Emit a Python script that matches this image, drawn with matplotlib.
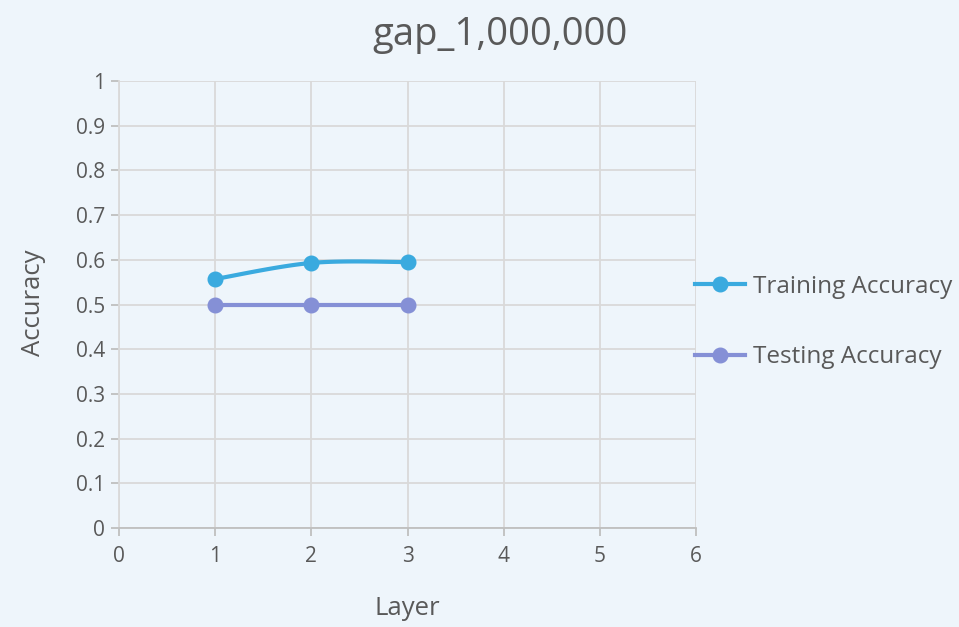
import numpy as np
import matplotlib
matplotlib.use("Agg")
import matplotlib.pyplot as plt

layers = [1, 2, 3]
training_acc = [0.557, 0.593, 0.595]
testing_acc = [0.500, 0.500, 0.500]
x_ticks = [0, 1, 2, 3, 4, 5, 6]
y_ticks = [0, 0.1, 0.2, 0.3, 0.4, 0.5, 0.6, 0.7, 0.8, 0.9, 1]

BG = "#EEF5FB"
TXT = "#595959"
GRID = "#D9D9D9"
C_TRAIN = "#3AAADF"
C_TEST = "#8590D6"

plt.rcParams["font.family"] = ["Open Sans", "DejaVu Sans"]


def smooth(xs, ys, n=40):
    """Cardinal-spline smoothing through the given points."""
    xs = np.asarray(xs, float)
    ys = np.asarray(ys, float)
    px = np.concatenate([[xs[0]], xs, [xs[-1]]])
    py = np.concatenate([[ys[0]], ys, [ys[-1]]])
    t = 1 / 6
    outx, outy = [], []
    for i in range(1, len(px) - 2):
        p0 = np.array([px[i], py[i]])
        p3 = np.array([px[i + 1], py[i + 1]])
        p1 = p0 + t * (np.array([px[i + 1], py[i + 1]]) - np.array([px[i - 1], py[i - 1]]))
        p2 = p3 - t * (np.array([px[i + 2], py[i + 2]]) - np.array([px[i], py[i]]))
        s = np.linspace(0, 1, n)[:, None]
        b = (1 - s) ** 3 * p0 + 3 * (1 - s) ** 2 * s * p1 + 3 * (1 - s) * s ** 2 * p2 + s ** 3 * p3
        outx.extend(b[:, 0])
        outy.extend(b[:, 1])
    return outx, outy


fig = plt.figure(figsize=(9.59, 6.27), dpi=100, facecolor=BG)
ax = fig.add_axes([0.1241, 0.1579, 0.6017, 0.7129], facecolor=BG)

for ys, col, lab in [(training_acc, C_TRAIN, "Training Accuracy"),
                     (testing_acc, C_TEST, "Testing Accuracy")]:
    sx, sy = smooth(layers, ys)
    ax.plot(sx, sy, color=col, lw=3.0, solid_capstyle="round", zorder=3)
    ax.plot(layers, ys, "o", color=col, ms=10.5, zorder=4)
    ax.plot([], [], "-o", color=col, lw=3.0, ms=10.5, label=lab)

ax.set_xlim(0, 6)
ax.set_ylim(0, 1)
ax.set_xticks(x_ticks)
ax.set_xticklabels([str(v) for v in x_ticks])
ax.set_yticks(y_ticks)
ax.set_yticklabels(["0", "0.1", "0.2", "0.3", "0.4", "0.5", "0.6", "0.7", "0.8", "0.9", "1"])
ax.grid(True, color=GRID, lw=1.3)
ax.set_axisbelow(True)
for side in ["top", "right"]:
    ax.spines[side].set_visible(False)
ax.spines["left"].set_color(GRID)
ax.spines["left"].set_linewidth(1.3)
ax.spines["bottom"].set_color("#BFBFBF")
ax.spines["bottom"].set_linewidth(1.3)
ax.tick_params(axis="both", colors="#BFBFBF", labelcolor=TXT, labelsize=15,
               length=6, width=1.3)
ax.tick_params(axis="x", pad=7)
ax.tick_params(axis="y", pad=4)

ax.set_xlabel("Layer", fontsize=18.5, color=TXT, va="center")
ax.xaxis.set_label_coords(0.5, -0.179)
ax.set_ylabel("Accuracy", fontsize=18.5, color=TXT, va="center")
ax.yaxis.set_label_coords(-0.149, 0.503)
fig.text(0.521, 0.944, "gap_1,000,000", fontsize=27.5, color=TXT,
         ha="center", va="center")

leg = fig.legend(loc="center left", bbox_to_anchor=(0.7247, 0.4864), frameon=False,
                 fontsize=17.5, labelcolor=TXT, handlelength=2.05, handletextpad=0.33,
                 labelspacing=1.9, borderpad=0, borderaxespad=0)

fig.savefig("out.png", dpi=100, facecolor=BG)
